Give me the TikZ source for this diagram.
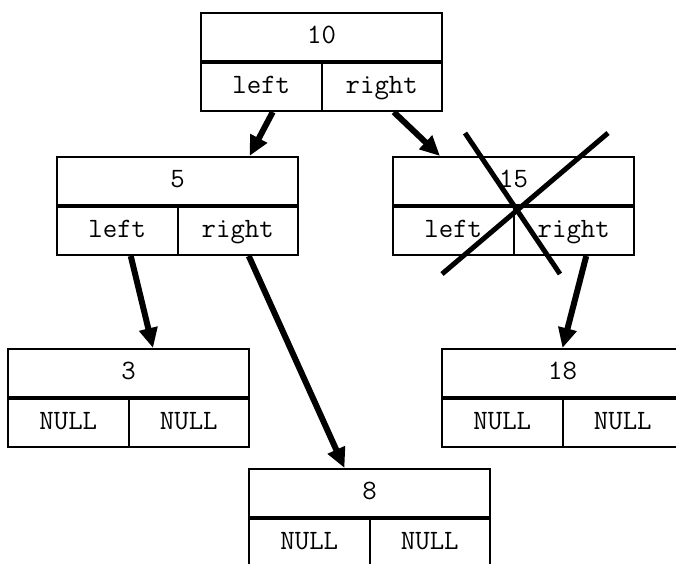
\documentclass[tikz,border=0pt]{standalone}
\usepackage{fontspec}
\usetikzlibrary{arrows.meta}

\begin{document}
\begin{tikzpicture}[x=1pt,y=-1pt,
  keycell/.style={draw,line width=2pt,minimum width=241pt,minimum height=48pt,inner sep=0pt,
    text height=17pt,text depth=4pt,font=\ttfamily\fontsize{28}{32}\selectfont},
  ptrcell/.style={keycell,minimum width=120.5pt},
  ptr/.style={line width=6pt,-{Triangle[length=20pt,width=18pt]}},
  cross/.style={line width=5pt}]
\useasboundingbox (0,0) rectangle (676,563);
% root
\node[keycell,anchor=north west] (n10) at (200,12) {10};
\node[ptrcell,anchor=north west] (n10l) at (n10.south west) {left};
\node[ptrcell,anchor=north east] (n10r) at (n10.south east) {right};
% second level
\node[keycell,anchor=north west] (n5) at (56,156) {5};
\node[ptrcell,anchor=north west] (n5l) at (n5.south west) {left};
\node[ptrcell,anchor=north east] (n5r) at (n5.south east) {right};
\node[keycell,anchor=north west] (n15) at (392,156) {15};
\node[ptrcell,anchor=north west] (n15l) at (n15.south west) {left};
\node[ptrcell,anchor=north east] (n15r) at (n15.south east) {right};
% leaves
\node[keycell,anchor=north west] (n3) at (7,348) {3};
\node[ptrcell,anchor=north west] (n3l) at (n3.south west) {NULL};
\node[ptrcell,anchor=north east] (n3r) at (n3.south east) {NULL};
\node[keycell,anchor=north west] (n18) at (441,348) {18};
\node[ptrcell,anchor=north west] (n18l) at (n18.south west) {NULL};
\node[ptrcell,anchor=north east] (n18r) at (n18.south east) {NULL};
\node[keycell,anchor=north west] (n8) at (248,468) {8};
\node[ptrcell,anchor=north west] (n8l) at (n8.south west) {NULL};
\node[ptrcell,anchor=north east] (n8r) at (n8.south east) {NULL};
% pointers
\draw[ptr] ([xshift=11.5pt]n10l.south) -- ([xshift=72pt]n5.north);
\draw[ptr] ([xshift=12pt]n10r.south) -- ([xshift=-73.5pt]n15.north);
\draw[ptr] ([xshift=13.5pt]n5l.south) -- ([xshift=24.5pt]n3.north);
\draw[ptr] ([xshift=11pt]n5r.south) -- ([xshift=-25pt]n8.north);
\draw[ptr] ([xshift=12.5pt]n15r.south) -- (n18.north);
% 15 is struck out
\draw[cross] (465,133) -- (560,274);
\draw[cross] (608,133) -- (442,274);
\end{tikzpicture}
\end{document}
